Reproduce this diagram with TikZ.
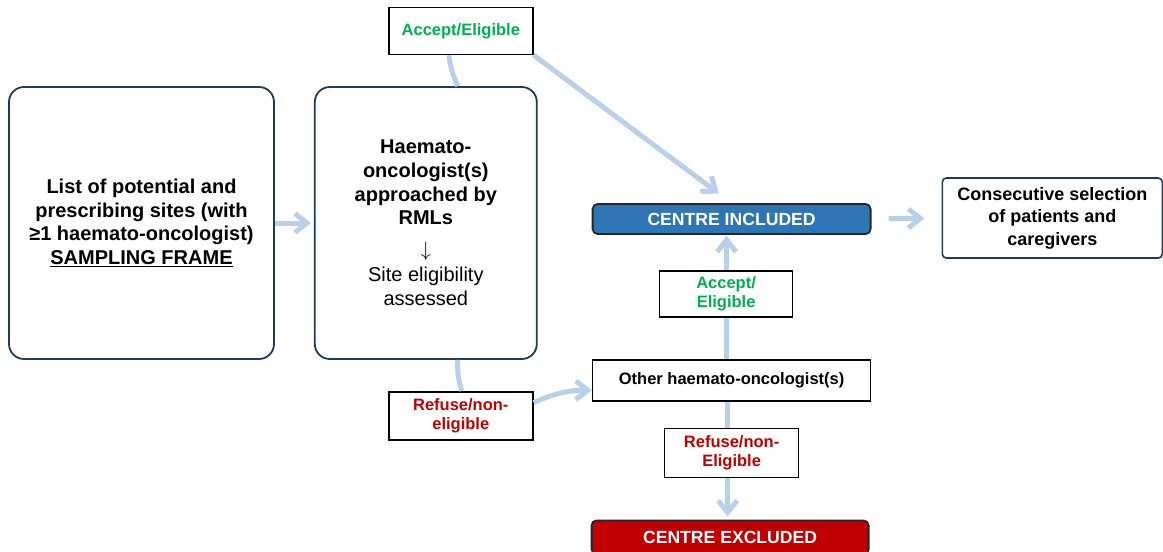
\documentclass[tikz,border=0pt]{standalone}
\usepackage{fontspec}
\setmainfont{Liberation Sans}
\usetikzlibrary{arrows.meta, positioning}

\definecolor{navyline}{HTML}{1F3864}
\definecolor{linkblue}{HTML}{B8D1EA}
\definecolor{yesgreen}{HTML}{00B050}
\definecolor{nored}{HTML}{C00000}
\definecolor{inblue}{HTML}{2E75B6}

\begin{document}
\begin{tikzpicture}[
    x=1pt, y=1pt,
    node distance=30pt and 38pt,
    >={Straight Barb[length=12pt, width=19pt]},
    base/.style={draw, align=center, inner sep=2pt, line width=1.8pt},
    bigbox/.style={base, draw=navyline, rounded corners=15pt, minimum height=272pt, font=\fontsize{20}{23.6}\selectfont\bfseries},
    choice/.style={base, draw=black, fill=white, line width=1.6pt, font=\fontsize{16.5}{19.5}\selectfont\bfseries},
    result/.style={base, draw=black!85, rounded corners=5pt, minimum width=278pt, text=white, font=\fontsize{17.6}{20}\selectfont\bfseries},
    plainbox/.style={base, draw=black, line width=1.6pt, minimum width=278pt, minimum height=41pt, font=\fontsize{16.5}{20}\selectfont\bfseries},
    link/.style={line width=5pt, draw=linkblue}
  ]
  \useasboundingbox (0,0) rectangle (1163,-552);
  \node[bigbox, minimum width=265pt] (frame) at (141.5,-223)
    {List of potential and\\
     prescribing sites (with\\
     ≥1 haemato-oncologist)\\
     \underline{SAMPLING FRAME}};
  \node[bigbox, minimum width=222pt, right=39pt of frame] (approach)
    {Haemato-\\ oncologist(s)\\ approached by\\ RMLs\\[8pt]
     \textmd{$\Big\downarrow$}\\[2pt] \textmd{Site eligibility}\\ \textmd{assessed}};
  \node[choice, minimum width=144pt, minimum height=47pt, text=yesgreen,
    above=31pt of approach, xshift=35pt] (accA) {Accept/Eligible};
  \node[choice, minimum width=144pt, minimum height=48pt, text=nored,
    below=31pt of approach, xshift=35pt] (refA) {Refuse/non-\\ eligible};
  \node[result, fill=inblue, minimum height=30pt, right=54pt of approach, yshift=4pt] (incl)
    {CENTRE INCLUDED};
  \node[base, draw=navyline, rounded corners=4pt, line width=1.6pt, minimum width=220pt,
    minimum height=80pt, right=70pt of incl, yshift=1pt,
    font=\fontsize{18}{22.5}\selectfont\bfseries] (consec)
    {Consecutive selection\\ of patients and\\ caregivers};
  \node[plainbox, below=124pt of incl] (other) {Other haemato-oncologist(s)};
  \node[result, fill=nored, minimum width=277pt, minimum height=34pt,
    below=118pt of other, xshift=-1.5pt] (excl) {CENTRE EXCLUDED};

  \draw[link, ->, shorten >=3pt] (frame) -- (approach);
  \draw[link] ([xshift=32pt]approach.north) to[bend left=8] ([xshift=-12pt]accA.south);
  \draw[link, ->, shorten >=16pt] (accA.south east) -- (incl.north);
  \draw[link] ([xshift=32pt]approach.south) to[bend right=10] ([xshift=1pt]refA.north);
  \draw[link, ->] ([yshift=13pt]refA.east) to[bend left=12] ([yshift=-10pt]other.west);
  \draw[link, ->, shorten <=17pt, shorten >=17pt] (incl) -- (consec);
  \draw[link, ->, shorten >=1pt] ([xshift=-5pt]other.north) -- ([xshift=-5pt]incl.south);
  \draw[link, ->, shorten >=3pt] ([xshift=-4pt]other.south) -- ([xshift=-2.5pt]excl.north);

  \node[choice, minimum width=133pt, minimum height=46pt, text=yesgreen,
    below=35pt of incl, xshift=-5.5pt] (accB) {Accept/\\ Eligible};
  \node[choice, minimum width=134pt, minimum height=49pt, text=nored,
    below=26pt of other] (refB) {Refuse/non-\\ Eligible};
\end{tikzpicture}
\end{document}
